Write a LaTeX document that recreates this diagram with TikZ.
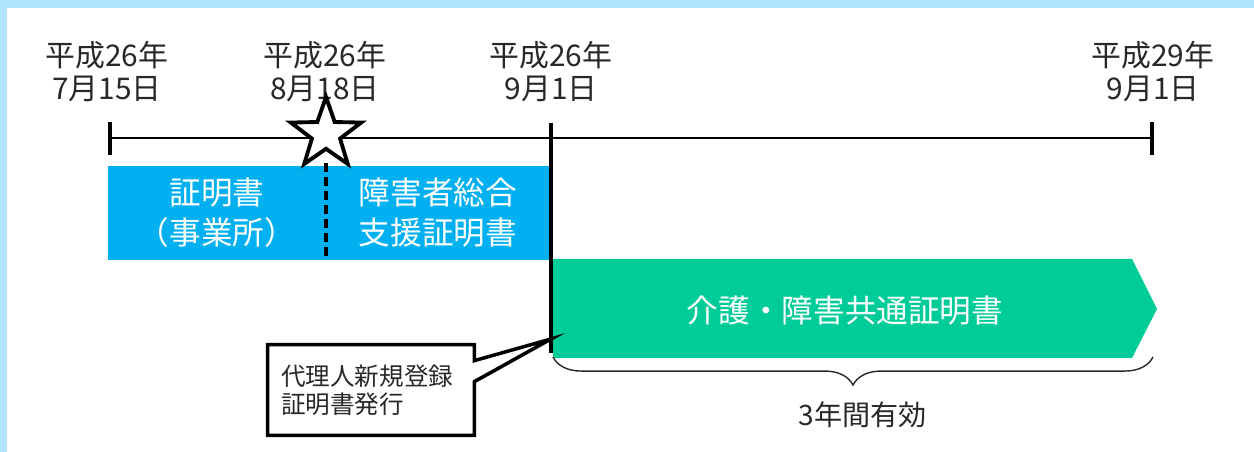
\documentclass[tikz,border=0pt]{standalone}
\usepackage{fontspec}
\setmainfont{Noto Sans CJK JP}
\usetikzlibrary{shapes.geometric,decorations.pathreplacing,calc}
\definecolor{frame}{RGB}{176, 228, 255}
\definecolor{sky}{RGB}{0, 176, 240}
\definecolor{mint}{RGB}{0, 204, 153}
\definecolor{ink}{RGB}{40, 40, 40}

\begin{document}
\begin{tikzpicture}[x=0.02cm, y=0.02cm,
    date/.style={align=center, text=ink, font=\fontsize{17pt}{18.7pt}\selectfont},
    cert/.style={fill=sky, text=white, align=center, inner sep=0pt, minimum height=1.88cm, font=\fontsize{18pt}{22.7pt}\selectfont},
    tick/.style={line width=2pt}]
      \useasboundingbox (0,0) rectangle (1254,-452);
      % Frame
      \fill[frame] (0,0) rectangle (1254,-452);
      \fill[white] (7,-8) rectangle (1254,-452);

      % Dates
      \node[date] (d1) at (107,-72) {平成26年\\7月15日};
      \node[date] (d2) at (325,-72) {平成26年\\8月18日};
      \node[date] (d3) at (551,-72) {平成26年\\9月1日};
      \node[date] (d4) at (1153,-72) {平成29年\\9月1日};

      % Certificates
      \node[cert, minimum width=4.36cm] (oldcert) at (217,-213) {証明書\\（事業所）};
      \node[cert, minimum width=4.48cm] (newcert) at (438,-213) {障害者総合\\支援証明書};
      \fill[mint] (553,-259) -- (1132,-259) -- (1157,-309) -- (1132,-358) -- (553,-358) -- cycle;
      \node[text=white, font=\fontsize{18pt}{22pt}\selectfont] (shared) at (845,-311) {介護・障害共通証明書};

      % Timeline
      \coordinate (t0) at (110,-138);
      \coordinate (t2) at (551,-138);
      \coordinate (t3) at (1152,-138);
      \coordinate (issue) at (551,-339);
      \draw[line width=1.5pt] (t0) -- (t3);
      \draw[tick] ($(t0)+(0,16)$) -- ($(t0)+(0,-17)$);
      \draw[tick] ($(t3)+(0,16)$) -- ($(t3)+(0,-17)$);
      \draw[tick] ($(t2)+(0,15)$) -- ($(issue)+(0,-14)$);

      % Star and divider
      \node[star, star points=5, star point ratio=2.5, minimum size=1.48cm, inner sep=0pt, draw, fill=white, line width=2.2pt] (star) at (326,-134) {};
      \draw[line width=2.2pt, dash pattern=on 5pt off 3pt] ($(star.center)+(0,-29)$) -- (star.center |- oldcert.south);

      % Validity
      \draw[decorate, decoration={brace, amplitude=16pt, mirror}, line width=0.8pt, ink] (553,-357) -- (1153,-357);
      \node[text=ink, font=\fontsize{16pt}{18pt}\selectfont] (valid) at (863,-415) {3年間有効};

      % Callout
      \node[text=ink, align=left, text width=3.6cm, inner xsep=0.26cm, inner ysep=0pt, minimum height=1.8cm, font=\fontsize{14pt}{15.9pt}\selectfont] (agent) at (371,-390) {代理人新規登録\\証明書発行};
      \draw[line width=2pt] (agent.north west) -- (agent.north east) -- ($(agent.north east)+(0,-16)$) -- (issue)
        -- ($(agent.north east)+(0,-37)$) -- (agent.south east) -- (agent.south west) -- cycle;
    \end{tikzpicture}
\end{document}
